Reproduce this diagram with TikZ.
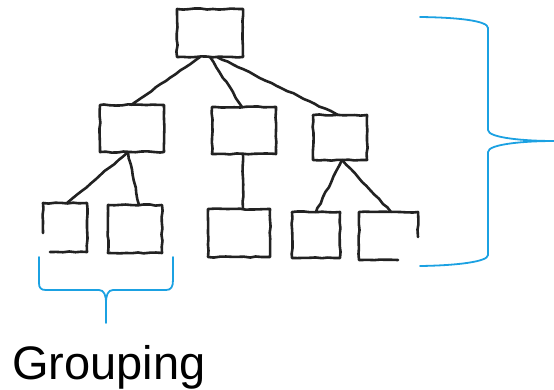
\documentclass[tikz,border=0pt]{standalone}
\usepackage{fontspec}
\setmainfont{Liberation Sans}
\usetikzlibrary{decorations.pathmorphing,calc}
\definecolor{ink}{HTML}{222222}
\definecolor{brace}{HTML}{1BA1E2}
\tikzset{
  hand/.style={draw=ink, line width=2.6pt, line cap=round, line join=round,
    decorate, decoration={random steps, segment length=6pt, amplitude=0.6pt}},
  box/.style={hand, minimum width=#1, inner sep=0pt, outer sep=0pt},
  ghostbox/.style={minimum width=#1, inner sep=0pt, outer sep=0pt},
  bracecurve/.style={draw=brace, line width=1.8pt, line cap=round},
  label/.style={font=\fontsize{47}{50}\selectfont, inner sep=0pt, anchor=base west}
}
\begin{document}
\pgfmathsetseed{7}
\begin{tikzpicture}[x=1pt,y=-1pt]
\useasboundingbox (0,0) rectangle (554,389);
% boxes
\node[box=66pt, minimum height=48pt] (root) at (210,33) {};
\node[box=64pt, minimum height=47pt] (a) at (132,128.5) {};
\node[box=64pt, minimum height=47pt] (b) at (244,130.5) {};
\node[box=54pt, minimum height=45pt] (c) at (340,137.5) {};
\node[ghostbox=44pt, minimum height=49pt] (a1) at (65,227.5) {};
\node[box=54pt, minimum height=48pt] (a2) at (135,229) {};
\node[box=62pt, minimum height=48pt] (b1) at (239,233) {};
\node[box=48pt, minimum height=46pt] (c1) at (316,235) {};
\node[ghostbox=59pt, minimum height=48pt] (c2) at (388.5,236) {};
% broken boxes
\draw[hand] ([yshift=19pt]a1.south west) -- (a1.north west) -- (a1.north east)
  -- (a1.south east) -- ([xshift=7pt]a1.south west);
\draw[hand] ([xshift=-20pt]c2.south east) -- (c2.south west) -- (c2.north west)
  -- (c2.north east) -- ([yshift=23pt]c2.south east);
% connectors
\draw[hand] ([xshift=-10pt]root.south) -- ([xshift=-1pt]a.north);
\draw[hand] (root.south) -- ([xshift=-2pt]b.north);
\draw[hand] ([xshift=7pt]root.south) -- ([xshift=-2pt]c.north);
\draw[hand] ([xshift=-4pt]a.south) -- ([xshift=2pt]a1.north);
\draw[hand] ([xshift=-4pt]a.south) -- ([xshift=4pt]a2.north);
\draw[hand] ([xshift=-1pt]b.south) -- ([xshift=4pt]b1.north);
\draw[hand] ([xshift=2pt]c.south) -- (c1.north);
\draw[hand] ([xshift=2pt]c.south) -- ([xshift=2.5pt]c2.north);
% right brace
\draw[bracecurve] (420,17) .. controls (460,17.5) and (488,21) .. (488,28) -- (488,130)
  .. controls (488,138) and (525,141) .. (554,141);
\draw[bracecurve] (554,141) .. controls (525,141) and (488,144) .. (488,152) -- (488,255)
  .. controls (488,262) and (455,265.5) .. (420,266);
% bottom brace
\draw[bracecurve] (39,257) -- (39,283) .. controls (39,288) and (41,290) .. (46,290)
  -- (99,290) .. controls (104,290) and (106,295) .. (106,303) -- (106,323);
\draw[bracecurve] (106,303) .. controls (106,295) and (108,290) .. (113,290) -- (166,290)
  .. controls (171,290) and (173,287) .. (173,280) -- (173,257);
% label
\node[label] (grp) at (12,379) {Grouping};
\end{tikzpicture}
\end{document}
